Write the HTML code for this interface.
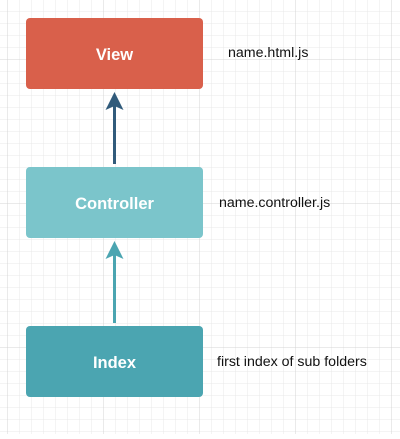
<!DOCTYPE html>
<html><head><style>
body{margin:0;width:400px;height:434px;overflow:hidden;background:#fff;font-family:"Liberation Sans",Arial,sans-serif;}
</style></head><body>
<svg width="400" height="434" xmlns="http://www.w3.org/2000/svg">
<defs>
<pattern id="g" x="7" y="11" width="12" height="12" patternUnits="userSpaceOnUse">
<path d="M0 0H12M0 0V12" stroke="#e8e8e8" stroke-width="1" fill="none"/>
</pattern>
<pattern id="G" x="7" y="59" width="96" height="144" patternUnits="userSpaceOnUse">
<path d="M0 0H96M0 0V144" stroke="#d4d4d4" stroke-width="1" fill="none"/>
</pattern>
</defs>
<rect width="400" height="434" fill="url(#g)"/>
<rect width="400" height="434" fill="url(#G)"/>
<rect x="26" y="18" width="177" height="71" rx="4" fill="#d9604b"/>
<rect x="26" y="167" width="177" height="71" rx="4" fill="#7bc5cb"/>
<rect x="26" y="326" width="177" height="71" rx="4" fill="#4ba5b1"/>
<g font-weight="bold" fill="#fff" font-size="16.5" text-anchor="middle">
<text x="114.5" y="60">View</text>
<text x="114.5" y="209">Controller</text>
<text x="114.5" y="368">Index</text>
</g>
<line x1="114.5" y1="164" x2="114.5" y2="105" stroke="#315b7b" stroke-width="3"/>
<path d="M114.5 92 L123.5 110 L114.5 106 L105.5 110 Z" fill="#315b7b"/>
<line x1="114.5" y1="323" x2="114.5" y2="254" stroke="#4ba5b1" stroke-width="3"/>
<path d="M114.5 241 L123.5 259 L114.5 255 L105.5 259 Z" fill="#4ba5b1"/>
<g font-size="14.2" fill="#111">
<text x="228" y="57">name.html.js</text>
<text x="219" y="207">name.controller.js</text>
<text x="217" y="366">first index of sub folders</text>
</g>
</svg>
</body></html>
